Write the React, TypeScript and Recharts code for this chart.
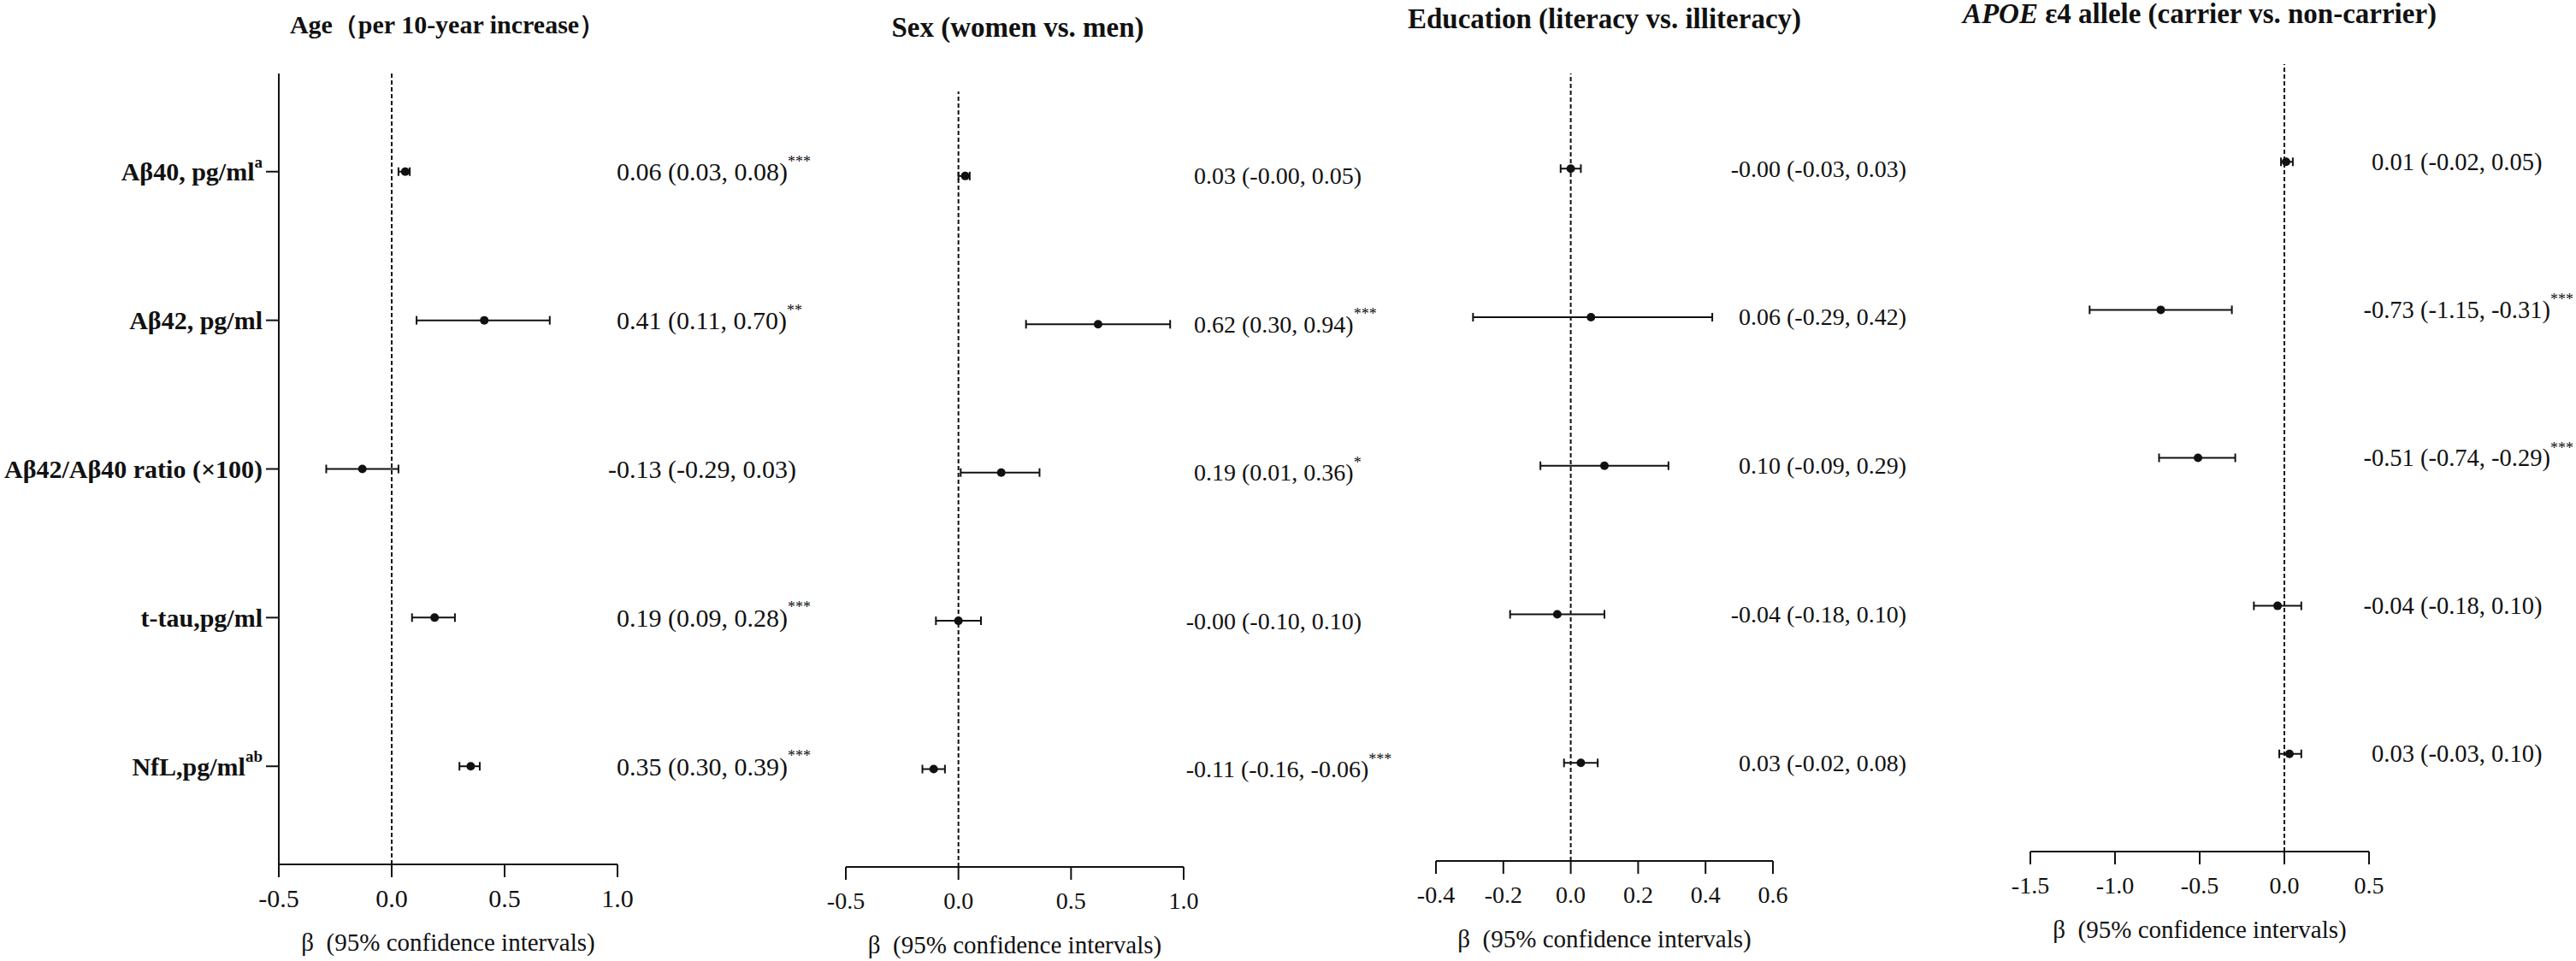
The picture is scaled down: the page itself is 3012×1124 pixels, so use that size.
import React from "react";
import { ErrorBar, ReferenceLine, Scatter, ScatterChart, XAxis, YAxis } from "recharts";

const FONT = '"Liberation Serif", "Times New Roman", serif';
const INK = "#111";
const H = 1124;

// outcome rows (top to bottom)
const outcomes = ["Aβ40, pg/ml", "Aβ42, pg/ml", "Aβ42/Aβ40 ratio (×100)", "t-tau,pg/ml", "NfL,pg/ml"];
const outcomeSup = ["a", "", "", "", "ab"];
const rows = [1, 2, 3, 4, 5];

// Age (per 10-year increase)
const ageBeta = [0.06, 0.41, -0.13, 0.19, 0.35];
const ageLow = [0.03, 0.11, -0.29, 0.09, 0.3];
const ageHigh = [0.08, 0.7, 0.03, 0.28, 0.39];
const ageStars = ["***", "**", "", "***", "***"];
const ageTicks = [-0.5, 0, 0.5, 1];

// Sex (women vs. men)
const sexBeta = [0.03, 0.62, 0.19, -0, -0.11];
const sexLow = [-0, 0.3, 0.01, -0.1, -0.16];
const sexHigh = [0.05, 0.94, 0.36, 0.1, -0.06];
const sexStars = ["", "***", "*", "", "***"];
const sexTicks = [-0.5, 0, 0.5, 1];

// Education (literacy vs. illiteracy)
const eduBeta = [-0, 0.06, 0.1, -0.04, 0.03];
const eduLow = [-0.03, -0.29, -0.09, -0.18, -0.02];
const eduHigh = [0.03, 0.42, 0.29, 0.1, 0.08];
const eduStars = ["", "", "", "", ""];
const eduTicks = [-0.4, -0.2, 0, 0.2, 0.4, 0.6];

// APOE e4 allele (carrier vs. non-carrier)
const apoeBeta = [0.01, -0.73, -0.51, -0.04, 0.03];
const apoeLow = [-0.02, -1.15, -0.74, -0.18, -0.03];
const apoeHigh = [0.05, -0.31, -0.29, 0.1, 0.1];
const apoeStars = ["", "***", "***", "", ""];
const apoeTicks = [-1.5, -1, -0.5, 0, 0.5];

const axisTitle = "β\u00a0 (95% confidence intervals)";

const fmt = (v: number) => (v < 0 || Object.is(v, -0) ? "-" : "") + Math.abs(v).toFixed(2);

const panels = [
  {
    title: <span>Age（per 10-year increase）</span>,
    beta: ageBeta, low: ageLow, high: ageHigh, stars: ageStars, ticks: ageTicks,
    left: 0, width: 975, plotLeft: 326, plotRight: 722, top: 86, bottom: 1011,
    rowDomain: [0.34, 5.66], noteDx: -1, titleX: 523, titleY: 29, titleSize: 30,
    noteSize: 30, tickFont: 30, labels: true,
  },
  {
    title: <span>Sex (women vs. men)</span>,
    beta: sexBeta, low: sexLow, high: sexHigh, stars: sexStars, ticks: sexTicks,
    left: 950, width: 710, plotLeft: 989, plotRight: 1384, top: 107, bottom: 1014,
    rowDomain: [0.43, 5.66], noteDx: 12, titleX: 1190, titleY: 32, titleSize: 33,
    noteSize: 28, tickFont: 28, labels: false,
  },
  {
    title: <span>Education (literacy vs. illiteracy)</span>,
    beta: eduBeta, low: eduLow, high: eduHigh, stars: eduStars, ticks: eduTicks,
    left: 1640, width: 640, plotLeft: 1679, plotRight: 2073, top: 86, bottom: 1007,
    rowDomain: [0.36, 5.66], noteDx: -40, titleX: 1876, titleY: 22, titleSize: 33,
    noteSize: 28, tickFont: 28, labels: false,
  },
  {
    title: (
      <span>
        <i>APOE</i> ε4 allele (carrier vs. non-carrier)
      </span>
    ),
    beta: apoeBeta, low: apoeLow, high: apoeHigh, stars: apoeStars, ticks: apoeTicks,
    left: 2280, width: 732, plotLeft: 2374, plotRight: 2770, top: 75, bottom: 996,
    rowDomain: [0.34, 5.66], noteDx: 3, titleX: 2572, titleY: 16, titleSize: 33,
    noteSize: 28.5, tickFont: 28, labels: false,
  },
];

const RowLabel = (props: any) => {
  const { x, y, payload } = props;
  const i = payload.value - 1;
  return (
    <text x={x} y={y} textAnchor="end" dominantBaseline="central" fontFamily={FONT} fontWeight="bold" fontSize={30} fill={INK}>
      {outcomes[i]}
      {outcomeSup[i] && (
        <tspan dy={-12} fontSize={19}>
          {outcomeSup[i]}
        </tspan>
      )}
    </text>
  );
};

const Note = (props: any) => {
  const { x, y, payload, panel } = props;
  const i = payload.value - 1;
  const txt = `${fmt(panel.beta[i])} (${fmt(panel.low[i])}, ${fmt(panel.high[i])})`;
  const shift = txt.startsWith("-") ? panel.noteSize * 0.333 : 0;
  return (
    <text x={x + panel.noteDx - shift} y={y} textAnchor="start" dominantBaseline="central" fontFamily={FONT} fontSize={panel.noteSize} fill={INK}>
      {txt}
      {panel.stars[i] && (
        <tspan dy={-12} fontSize={18}>
          {panel.stars[i]}
        </tspan>
      )}
    </text>
  );
};

const Dot = (props: any) => <circle cx={props.cx} cy={props.cy} r={5} fill={INK} />;

const Panel = ({ p }: { p: (typeof panels)[number] }) => {
  const data = rows.map((row, i) => ({
    row,
    beta: p.beta[i],
    err: [p.beta[i] - p.low[i], p.high[i] - p.beta[i]],
  }));
  const xAxisH = H - p.bottom;
  return (
    <div style={{ position: "absolute", left: p.left, top: 0 }}>
      <ScatterChart width={p.width} height={H} margin={{ top: p.top, right: 0, bottom: 0, left: 0 }}>
        <XAxis
          type="number"
          dataKey="beta"
          domain={[p.ticks[0], p.ticks[p.ticks.length - 1]]}
          ticks={p.ticks}
          allowDataOverflow
          tickFormatter={(v: number) => v.toFixed(1)}
          axisLine={{ stroke: INK, strokeWidth: 2 }}
          tickLine={{ stroke: INK, strokeWidth: 2 }}
          tickSize={15}
          tickMargin={14}
          height={xAxisH}
          tick={{ fontSize: p.tickFont, fill: INK, fontFamily: FONT }}
          label={{
            value: axisTitle,
            position: "insideBottom",
            offset: xAxisH - 101,
            style: { fontSize: 29, fill: INK, fontFamily: FONT },
          }}
        />
        <YAxis
          yAxisId="l"
          type="number"
          dataKey="row"
          domain={p.rowDomain}
          allowDataOverflow
          reversed
          ticks={rows}
          width={p.plotLeft - p.left}
          axisLine={p.labels ? { stroke: INK, strokeWidth: 2 } : false}
          tickLine={p.labels ? { stroke: INK, strokeWidth: 2 } : false}
          tickSize={15}
          tickMargin={4}
          tick={p.labels ? <RowLabel /> : false}
        />
        <YAxis
          yAxisId="r"
          orientation="right"
          type="number"
          domain={p.rowDomain}
          allowDataOverflow
          reversed
          ticks={rows}
          width={p.left + p.width - p.plotRight}
          axisLine={false}
          tickLine={false}
          tickSize={0}
          tickMargin={0}
          tick={<Note panel={p} />}
        />
        <ReferenceLine x={0} yAxisId="l" stroke={INK} strokeWidth={2} strokeDasharray="5 3" />
        <Scatter yAxisId="l" data={data} dataKey="beta" isAnimationActive={false} shape={<Dot />}>
          <ErrorBar dataKey="err" direction="x" width={5} stroke={INK} strokeWidth={2} />
        </Scatter>
      </ScatterChart>
      <div
        style={{
          position: "absolute",
          left: p.titleX - p.left,
          top: p.titleY,
          transform: "translate(-50%, -50%)",
          whiteSpace: "nowrap",
          fontFamily: FONT,
          fontWeight: "bold",
          fontSize: p.titleSize,
          color: INK,
          lineHeight: 1,
        }}
      >
        {p.title}
      </div>
    </div>
  );
};

const App: React.FC = () => (
  <div style={{ position: "absolute", left: 0, top: 0, width: 3012, height: H, background: "#fff" }}>
    {panels.map((p, i) => (
      <Panel key={i} p={p} />
    ))}
  </div>
);

export default App;
